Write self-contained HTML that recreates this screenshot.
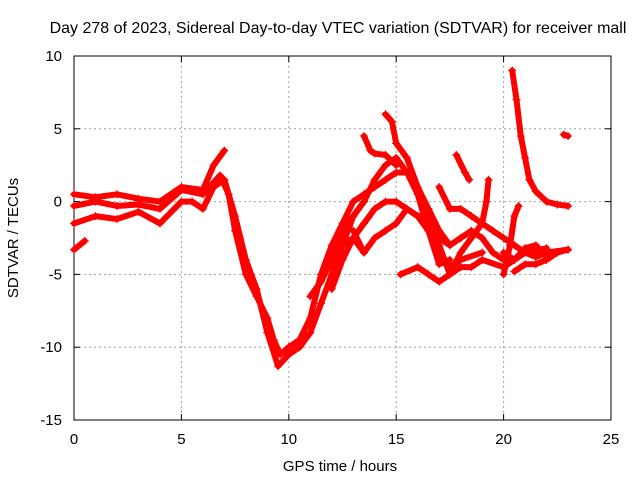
<!DOCTYPE html>
<html><head><meta charset="utf-8"><style>
body{margin:0;background:#fff}
svg{display:block;font-family:"Liberation Sans",sans-serif}
</style></head><body>
<svg id="chart" width="640" height="480" viewBox="0 0 640 480">
<rect width="640" height="480" fill="#fff"/>
<text x="338" y="33" font-size="16" text-anchor="middle" fill="#000">Day 278 of 2023, Sidereal Day-to-day VTEC variation (SDTVAR) for receiver mall</text>
<g id="grid"></g>
<g id="axes"></g>
<g id="series"></g>
<text x="340" y="471" font-size="15" text-anchor="middle">GPS time / hours</text>
<text transform="translate(18,238) rotate(-90)" font-size="15" text-anchor="middle">SDTVAR / TECUs</text>
</svg>
<script>
const xTicks=[0,5,10,15,20,25];
const yTicks=[10,5,0,-5,-10,-15];
const tracks=[
[[0,0.5],[1,0.3],[2,0.5],[3,0.2],[4,0],[5,1],[6,0.8],[6.5,2.5],[7,3.5]],
[[0,-0.3],[1,0],[2,-0.3],[3,-0.2],[4,-0.5],[5,0.8],[6,0.5],[6.8,1.8],[7.2,0.5],[7.5,-2],[8,-5],[8.5,-6.5],[9,-8],[9.3,-9.5],[9.6,-10.5],[10,-10]],
[[0,-1.5],[1,-1],[2,-1.2],[3,-0.7],[4,-1.5],[5,0],[5.5,0],[6,-0.5],[6.5,1],[7,1.5],[7.5,-1],[8,-4],[8.5,-6],[9,-9],[9.5,-11.3],[10,-10.5],[10.5,-10],[11,-9],[11.5,-7],[12,-5],[12.5,-3],[13,-1],[13.5,0]],
[[0,-3.3],[0.5,-2.7]],
[[10,-10],[10.5,-9.5],[11,-8],[11.5,-5],[12,-3],[12.5,-1.5],[13,0],[13.5,0.5],[14,1],[14.5,1.5],[15,2],[15.5,2],[16,1],[16.5,-1],[17,-3],[17.5,-5]],
[[11,-6.5],[11.5,-5.5],[12,-4],[12.5,-2],[13,-1],[13.5,0],[14,1.5],[14.5,2.5],[15,3],[15.5,2],[16,0.5],[16.5,-2],[17,-4.3],[17.5,-4]],
[[12,-6],[12.5,-4],[13,-2.5],[13.5,-1.5],[14,-0.5],[14.5,0],[15,0],[15.5,-0.5],[16,-1],[16.5,-2],[17,-3.5],[17.5,-4.5],[18,-4],[19,-3.5]],
[[12.5,-3],[13,-2.5],[13.5,-3.5]],
[[13,-2],[13.5,-3.5],[14,-2.5],[14.5,-2],[15,-1.5],[15.5,-0.5],[16,-1],[16.5,-1],[17,-2.5],[17.5,-3],[18,-2.5],[18.5,-2],[19,-2.5],[19.5,-3.5],[20,-4]],
[[14.5,6],[14.8,5.5],[15,4],[15.5,3],[16,1],[16.5,-0.5],[17,-2],[17.5,-3]],
[[13.5,4.5],[13.8,3.5],[14,3.3],[14.5,3.2],[15,2.5]],
[[15.2,-5],[16,-4.5],[16.5,-5],[17,-5.5],[17.5,-5],[18,-4.5],[18.5,-4.5],[19,-4],[20,-4.5],[20.5,-4],[21,-3.5],[22,-3.2]],
[[17.5,-5],[18,-3.5],[18.5,-2.5],[19,-1.5],[19.2,0],[19.3,1.5]],
[[17.8,3.2],[18.2,2],[18.4,1.5]],
[[17,1],[17.5,-0.5],[18,-0.5],[18.5,-1],[19,-1.5],[19.5,-2],[20,-2.5],[20.5,-3],[21,-3.5],[21.5,-3.8],[22,-3.5],[23,-3.3]],
[[20,-5],[20.3,-3],[20.5,-1],[20.7,-0.3]],
[[20.4,9],[20.6,7],[20.8,4.5],[21,3],[21.2,1.5],[21.5,0.7],[22,0],[22.5,-0.2],[23,-0.3]],
[[22.8,4.6],[23,4.5]],
[[20.5,-4.8],[21,-4.3],[21.5,-4.3],[22,-4],[22.5,-3.5],[23,-3.3]],
[[20,-3.5],[20.5,-4],[21,-3.2],[21.5,-3],[22,-3.8]]
];
const NS="http://www.w3.org/2000/svg";
const L=74,R=611,T=56,B=420;
const xs=v=>L+(v-0)/(25-0)*(R-L);
const ys=v=>B-(v+15)/(10+15)*(B-T);
function mk(tag,parent,attrs){const e=document.createElementNS(NS,tag);for(const k in attrs)e.setAttribute(k,attrs[k]);parent.appendChild(e);return e;}
const grid=document.getElementById('grid'),axes=document.getElementById('axes'),ser=document.getElementById('series');
xTicks.forEach(t=>{
 const x=xs(t);
 if(t>0&&t<25){const g=mk('line',grid,{x1:x,x2:x,y1:T,y2:B,stroke:'#a0a0a0','stroke-dasharray':'2,3'});
 
 }
 mk('line',axes,{x1:x,x2:x,y1:B,y2:B-6,stroke:'#000'});
 mk('line',axes,{x1:x,x2:x,y1:T,y2:T+6,stroke:'#000'});
 const tx=mk('text',axes,{x:x,y:B+24,'font-size':15,'text-anchor':'middle'});tx.textContent=t;
 
 
});
yTicks.forEach(t=>{
 const y=ys(t);
 if(t>-15&&t<10){const g=mk('line',grid,{x1:L,x2:R,y1:y,y2:y,stroke:'#a0a0a0','stroke-dasharray':'2,3'});
 
 }
 mk('line',axes,{x1:L,x2:L+6,y1:y,y2:y,stroke:'#000'});
 mk('line',axes,{x1:R,x2:R-6,y1:y,y2:y,stroke:'#000'});
 const tx=mk('text',axes,{x:L-12,y:y+5,'font-size':15,'text-anchor':'end'});tx.textContent=t;
 
 
});
const frame=mk('rect',axes,{x:L,y:T,width:R-L,height:B-T,fill:'none',stroke:'#000'});


tracks.forEach((tr,i)=>{
 const p=mk('polyline',ser,{points:tr.map(d=>xs(d[0])+','+ys(d[1])).join(' '),fill:'none',stroke:'#ff0000','stroke-width':6,'stroke-linejoin':'round','stroke-linecap':'round'});
 
 
 tr.forEach(d=>{
  const x=xs(d[0]),y=ys(d[1]);
  const m=mk('path',ser,{d:`M${x-4},${y}H${x+4}M${x},${y-4}V${y+4}`,stroke:'#ff0000','stroke-width':1.2});
  
  
 });
});
</script>
</body></html>
